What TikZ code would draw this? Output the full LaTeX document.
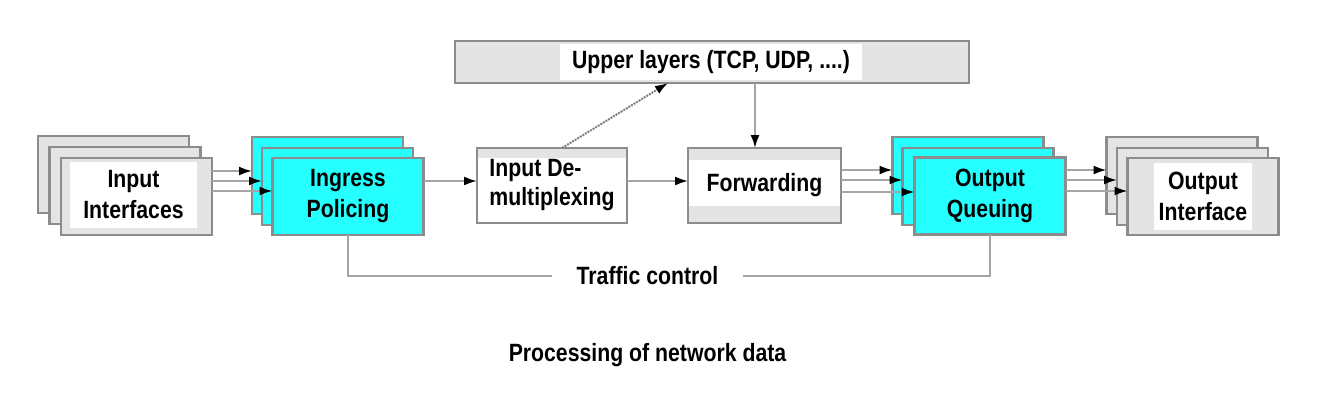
\documentclass[tikz,border=0pt]{standalone}
\usepackage{fontspec}
\setmainfont{Liberation Sans}[FakeStretch=0.85]
\usetikzlibrary{arrows.meta}
\definecolor{qcyan}{RGB}{38,255,255}
\definecolor{boxgray}{RGB}{140,140,140}
\definecolor{fillgray}{RGB}{228,228,228}
\definecolor{linegray}{RGB}{165,165,165}

\begin{document}
\begin{tikzpicture}[
        x=1pt, y=-1pt,
        every node/.append style={font=\fontsize{25}{31}\selectfont\bfseries}
    ]
    \tikzstyle{box}=[draw=boxgray,line width=2.2pt,fill=fillgray,minimum width=151pt,minimum height=77pt,inner sep=0pt,outer sep=0pt];
    \tikzstyle{cbox}=[box,fill=qcyan];
    \tikzstyle{panel}=[fill=white,inner sep=0pt,align=center];
    \tikzstyle{flow}=[draw=linegray,line width=2pt,-{Latex[color=black,length=13pt,width=9pt]}];
    \tikzstyle{ctrl}=[draw=linegray,line width=2pt];
    \useasboundingbox (0,0) rectangle (1340,400);
    % input interfaces
    \node[box] (in1) at (113.5,174.5) {};
    \node[box] (in2) at (125,185.5) {};
    \node[box] (in3) at (136.5,196.5) {};
    \node[panel,minimum width=127pt,minimum height=66pt] (inlbl) at (133.5,195) {Input\\Interfaces};
    % ingress policing
    \node[cbox] (ip1) at (327.5,175.5) {};
    \node[cbox] (ip2) at (337.5,186.5) {};
    \node[cbox,align=center] (ip3) at (348,196.5) {Ingress\\Policing};
    % demultiplexing
    \node[box,fill=white,minimum width=150pt,minimum height=75pt,align=left,
        path picture={\fill[fillgray] (path picture bounding box.north west) rectangle ([yshift=-10pt]path picture bounding box.north east);}]
        (dmx) at (552,185.5) {Input De-\\[-2pt]multiplexing};
    % forwarding
    \node[box,fill=white,minimum width=153pt,minimum height=75pt,
        path picture={\fill[fillgray] (path picture bounding box.north west) rectangle ([yshift=-12pt]path picture bounding box.north east);
            \fill[fillgray] (path picture bounding box.south west) rectangle ([yshift=17pt]path picture bounding box.south east);}]
        (fwd) at (764.5,185.5) {Forwarding};
    % upper layers
    \node[box,minimum width=514pt,minimum height=42pt] (up) at (712,62) {};
    \node[panel,minimum width=302pt,minimum height=36pt] (uplbl) at (711,62) {Upper layers (TCP, UDP, ....)};
    % output queuing
    \node[cbox] (oq1) at (968,175.5) {};
    \node[cbox] (oq2) at (978,186.5) {};
    \node[cbox,align=center] (oq3) at (990,196) {Output\\Queuing};
    % output interface
    \node[box] (oi1) at (1182,175.5) {};
    \node[box] (oi2) at (1192.5,186.5) {};
    \node[box] (oi3) at (1203,196.5) {};
    \node[panel,minimum width=98pt,minimum height=67pt] (oilbl) at (1203,196.5) {Output\\Interface};
    % connectors
    \foreach \t/\d in {ip1/25.5,ip2/15.5,ip3/5.5} {
        \coordinate (s) at ([yshift=\d pt]in3.east);
        \draw[flow] (s) -- (s -| \t.west);
    }
    \coordinate (d) at ([yshift=4.5pt]dmx.west);
    \draw[flow] (d -| ip3.east) -- (d);
    \draw[flow] (d -| dmx.east) -- (d -| fwd.west);
    \draw[flow,draw=gray,densely dotted] ([xshift=10pt]dmx.north) -- ([xshift=-44pt]up.south);
    \coordinate (f) at ([xshift=-9.5pt]fwd.north);
    \draw[flow] (f |- up.south) -- (f);
    \foreach \t/\d in {oq1/15.5,oq2/5.5,oq3/-6.5} {
        \coordinate (s) at ([yshift=\d pt]fwd.east);
        \draw[flow] (s) -- (s -| \t.west);
    }
    \foreach \t/\d in {oi1/26,oi2/16,oi3/5} {
        \coordinate (s) at ([yshift=\d pt]oq3.east);
        \draw[flow] (s) -- (s -| \t.west);
    }
    % traffic control
    \node[inner xsep=24pt] (tc) at (647.5,276) {Traffic control};
    \draw[ctrl] (ip3.south) |- (tc.west);
    \draw[ctrl] (oq3.south) |- (tc.east);
    % caption
    \node (cap) at (647.5,355) {Processing of network data};
\end{tikzpicture}
\end{document}
